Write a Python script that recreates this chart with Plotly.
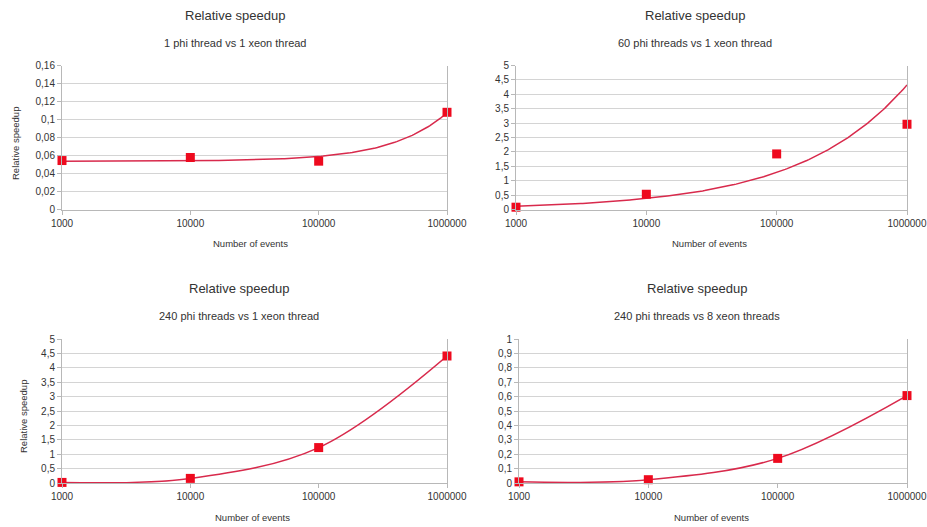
import numpy as np
import plotly.graph_objects as go

# ---- data ----
events = [1000, 10000, 100000, 1000000]
speedup_1phi_1xeon = [0.0544, 0.0578, 0.0537, 0.108]
speedup_60phi_1xeon = [0.08, 0.53, 1.93, 2.96]
speedup_240phi_1xeon = [0.02, 0.16, 1.23, 4.41]
speedup_240phi_8xeon = [0.008, 0.023, 0.171, 0.607]

x_tick_vals = [1000, 10000, 100000, 1000000]
x_tick_text = ["1000", "10000", "100000", "1000000"]

main_title = "Relative speedup"
subtitles = ["1 phi thread vs 1 xeon thread", "60 phi threads vs 1 xeon thread",
             "240 phi threads vs 1 xeon thread", "240 phi threads vs 8 xeon threads"]
x_title = "Number of events"
y_title = "Relative speedup"

OFF = 0  # page body margin removed via post_script
W, H = 927 - OFF, 527 - OFF
FONT = "Liberation Sans, Arial, sans-serif"
MARK = "#ee0a1e"
LINE = "#d82a4c"
GRID = "#d4d4d4"
AXL = "#b8b8b8"
TXT = "#333333"

fig = go.Figure()

def px_x(p):
    return (p - OFF) / W

def px_y(p):
    return 1 - (p - OFF) / H

# panel geometry (window pixels): left, right, top, bottom
panels = [
    (62, 447, 65.5, 209.5),
    (516, 907, 65.5, 209.5),
    (62, 447, 339, 483),
    (519, 907, 339, 483),
]
yranges = [(0, 0.16, 0.02), (0, 5, 0.5), (0, 5, 0.5), (0, 1, 0.1)]
series = [speedup_1phi_1xeon, speedup_60phi_1xeon, speedup_240phi_1xeon, speedup_240phi_8xeon]
title_cx = [235, 695, 238.5, 697]
title_y = [15.7, 15.7, 288.3, 288.3]
sub_y = [43.3, 43.3, 316, 316]
xtitle_cx = [250, 709, 252, 711]
xtitle_y = [243, 243, 517, 517]
ytitle = {0: (16, 144), 2: (23, 417)}

def fmt(v):
    s = f"{v:.2f}".rstrip("0").rstrip(".")
    return s.replace(".", ",")

ex = np.array(events, dtype=float)
dense = np.logspace(3, 6, 200)

for i in range(4):
    n = "" if i == 0 else str(i + 1)
    xa = "x" + n
    ya = "y" + n
    y = np.array(series[i], dtype=float)

    # trend / smoothing lines
    if i == 0:
        b, a = np.polyfit(ex, y, 1)  # linear trendline
        fig.add_trace(go.Scatter(x=dense, y=a + b * dense, mode="lines",
                                 line=dict(color=LINE, width=1.5), xaxis=xa, yaxis=ya,
                                 showlegend=False, hoverinfo="skip"))
    elif i == 1:
        b, a = np.polyfit(np.log10(ex), np.log10(y), 1)  # power trendline
        fig.add_trace(go.Scatter(x=dense, y=10 ** a * dense ** b, mode="lines",
                                 line=dict(color=LINE, width=1.5), xaxis=xa, yaxis=ya,
                                 showlegend=False, hoverinfo="skip"))
    else:
        fig.add_trace(go.Scatter(x=events, y=series[i], mode="lines",
                                 line=dict(color=LINE, width=1.5, shape="spline", smoothing=1),
                                 xaxis=xa, yaxis=ya, showlegend=False))

    fig.add_trace(go.Scatter(x=events, y=series[i], mode="markers",
                             marker=dict(symbol="square", size=9, color=MARK),
                             cliponaxis=False, xaxis=xa, yaxis=ya, showlegend=False))

    l, r, t, btm = panels[i]
    y0, y1, dt = yranges[i]
    yv = list(np.round(np.arange(y0, y1 + dt / 2, dt), 4))
    fig.layout["xaxis" + n] = dict(
        domain=[px_x(l), px_x(r)], anchor=ya, type="log", range=[3 - 1e-6, 6 + 1e-6],
        tickvals=x_tick_vals, ticktext=x_tick_text, showgrid=False, automargin=False,
        showline=True, linecolor=AXL, mirror=False, ticks="outside", ticklen=4,
        tickcolor=AXL, tickfont=dict(size=10, color=TXT, family=FONT), zeroline=False,
    )
    fig.layout["yaxis" + n] = dict(
        domain=[px_y(btm), px_y(t)], anchor=xa, range=[y0, y1], automargin=False,
        tickvals=yv, ticktext=[fmt(v) for v in yv], showgrid=True, gridcolor=GRID,
        showline=True, linecolor=AXL, mirror=True, ticks="outside", ticklen=4,
        tickcolor=AXL, tickfont=dict(size=10, color=TXT, family=FONT), zeroline=False,
    )

    fig.add_annotation(text=main_title, x=px_x(title_cx[i]), y=px_y(title_y[i]),
                       xref="paper", yref="paper", showarrow=False,
                       xanchor="center", yanchor="middle",
                       font=dict(size=13, color=TXT, family=FONT))
    fig.add_annotation(text=subtitles[i], x=px_x(title_cx[i]), y=px_y(sub_y[i]),
                       xref="paper", yref="paper", showarrow=False,
                       xanchor="center", yanchor="middle",
                       font=dict(size=11, color=TXT, family=FONT))
    fig.add_annotation(text=x_title, x=px_x(xtitle_cx[i]), y=px_y(xtitle_y[i]),
                       xref="paper", yref="paper", showarrow=False,
                       xanchor="center", yanchor="middle",
                       font=dict(size=9.5, color=TXT, family=FONT))
    if i in ytitle:
        yx, yy = ytitle[i]
        fig.add_annotation(text=y_title, x=px_x(yx), y=px_y(yy), textangle=-90,
                           xref="paper", yref="paper", showarrow=False,
                           xanchor="center", yanchor="middle",
                           font=dict(size=9.5, color=TXT, family=FONT))

fig.update_layout(width=W, height=H, margin=dict(l=0, r=0, t=0, b=0, autoexpand=False),
                  paper_bgcolor="white", plot_bgcolor="white",
                  font=dict(family=FONT, color=TXT), showlegend=False)

fig.write_html("out.html",
               config={"displayModeBar": False},
               post_script="document.body.style.margin='0';"
                           "document.documentElement.style.overflow='hidden';")
